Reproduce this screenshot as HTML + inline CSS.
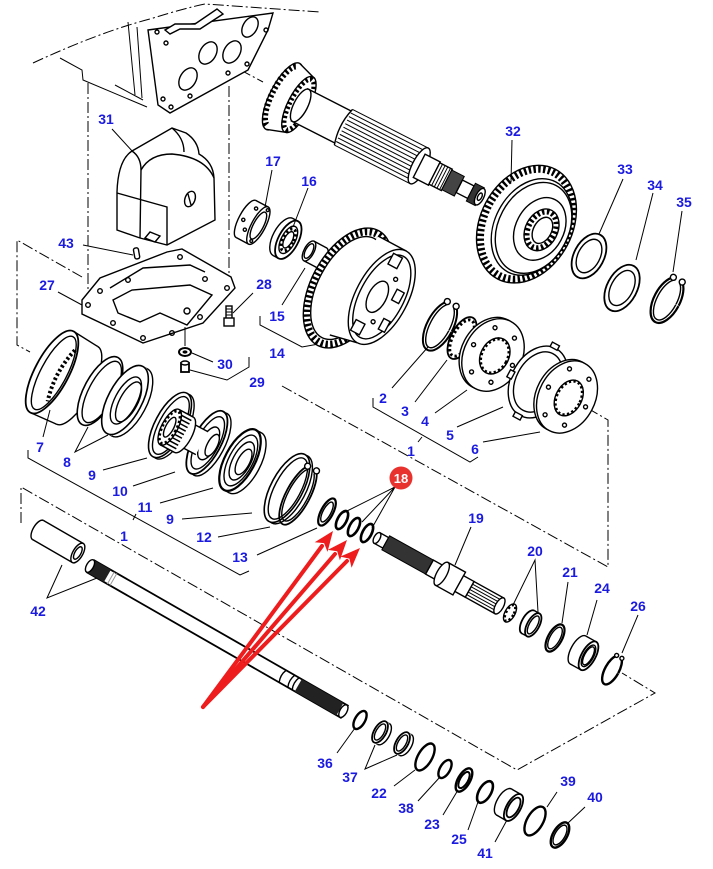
<!DOCTYPE html>
<html><head><meta charset="utf-8"><style>
html,body{margin:0;padding:0;background:#fff}
svg{display:block}
.s{fill:none;stroke:#000;stroke-width:1.4}
.w{fill:#fff;stroke:#000;stroke-width:1.4}
.t{fill:none;stroke:#000;stroke-width:6;stroke-dasharray:2.4 2.4}
.l{fill:none;stroke:#000;stroke-width:1}
.d{fill:none;stroke:#000;stroke-width:1;stroke-dasharray:11 3 2 3}
.n{font-family:"Liberation Sans",Arial,sans-serif;font-weight:bold;font-size:14px;fill:#1a1ae0;text-anchor:middle}
</style></head><body>
<svg width="713" height="869" viewBox="0 0 713 869" xmlns="http://www.w3.org/2000/svg">
<rect width="713" height="869" fill="#fff"/>
<path class="d" d="M33,63 Q100,32 150,19 Q185,8 205,4 L320,12"/>
<line class="d" x1="88" y1="83" x2="88" y2="290"/>
<line class="d" x1="229" y1="86" x2="229" y2="282"/>
<path class="d" d="M82,277 L17,240 L17,345 L30,352"/>
<line class="d" x1="207" y1="52" x2="263" y2="82"/>
<path class="d" d="M282,386 L608,567 L608,420 L570,398"/>
<path class="d" d="M21,523 L21,487 L517,770 L655,693 L622,673"/>
<path class="l" d="M260,316 L260,325 L302,347 L330,342"/>
<path class="l" d="M190,370 L227,380 L249,367 L249,357"/>
<path class="l" d="M28,450 L28,458 L240,575 L249,571"/>
<path class="l" d="M373,398 L373,407 L470,462 L478,457"/>
<path class="l" d="M60,58 L82,70 L83,80 L147,107"/>
<path class="l" d="M115,85 L143,100"/>
<path class="l" d="M137,27 L142,98"/>
<path class="l" d="M128,22 L135,95"/>
<path class="w" d="M148,30 L273,13 L268,30 L248,70 L170,113 L158,105 Z"/>
<path class="w" d="M165,30 L175,24 L195,24 L217,9 L223,14 L200,29 L180,29 L170,34 Z"/>
<ellipse class="w" cx="250" cy="27" rx="7" ry="11" transform="rotate(30 250 27)"/>
<ellipse class="w" cx="208" cy="53" rx="8" ry="12" transform="rotate(30 208 53)"/>
<ellipse class="w" cx="232" cy="52" rx="8" ry="12" transform="rotate(30 232 52)"/>
<ellipse class="w" cx="188" cy="79" rx="8" ry="12" transform="rotate(30 188 79)"/>
<g class="s"><circle cx="157" cy="32" r="2"/><circle cx="166" cy="43" r="2"/><circle cx="163" cy="99" r="2"/><circle cx="171" cy="107" r="2"/><circle cx="190" cy="96" r="2"/><circle cx="228" cy="73" r="2"/><circle cx="247" cy="64" r="2"/><circle cx="266" cy="30" r="2"/></g>
<g transform="translate(290,100) rotate(27)">
<ellipse class="w" cx="-8" cy="0" rx="13" ry="37"/>
<ellipse class="t" cx="-8" cy="0" rx="11" ry="33"/>
<path fill="#fff" d="M-8,-37 L10,-31 L10,31 L-8,37 Z"/>
<line class="s" x1="-8" y1="-37" x2="10" y2="-31"/><line class="s" x1="-8" y1="37" x2="10" y2="31"/>
<ellipse class="w" cx="10" cy="0" rx="11" ry="31"/>
<ellipse class="t" cx="10" cy="0" rx="9" ry="28" style="stroke-width:5"/>
<rect x="10" y="-18" width="50" height="36" fill="#fff"/>
<line class="s" x1="10" y1="-18" x2="60" y2="-18"/><line class="s" x1="10" y1="18" x2="60" y2="18"/>
<ellipse class="w" cx="12" cy="0" rx="7" ry="18"/>
<rect x="60" y="-20" width="85" height="40" fill="#fff"/>
<g class="l"><line x1="60" y1="-20" x2="145" y2="-20"/><line x1="60" y1="-16" x2="145" y2="-16"/><line x1="60" y1="-12" x2="145" y2="-12"/><line x1="60" y1="-8" x2="145" y2="-8"/><line x1="60" y1="-4" x2="145" y2="-4"/><line x1="60" y1="0" x2="145" y2="0"/><line x1="60" y1="4" x2="145" y2="4"/><line x1="60" y1="8" x2="145" y2="8"/><line x1="60" y1="12" x2="145" y2="12"/><line x1="60" y1="16" x2="145" y2="16"/><line x1="60" y1="20" x2="145" y2="20"/></g>
<path class="s" d="M60,-20 Q54,0 60,20"/>
<ellipse class="w" cx="145" cy="0" rx="7" ry="20"/>
<rect class="w" x="145" y="-13" width="17" height="26"/>
<rect class="w" x="162" y="-12" width="14" height="24"/>
<g class="l"><line x1="165" y1="-12" x2="165" y2="12"/><line x1="168" y1="-12" x2="168" y2="12"/><line x1="171" y1="-12" x2="171" y2="12"/><line x1="174" y1="-12" x2="174" y2="12"/></g>
<rect x="176" y="-11" width="14" height="22" fill="#444" stroke="#000"/>
<rect class="w" x="190" y="-7" width="13" height="14"/>
<rect x="203" y="-10" width="10" height="20" fill="#333" stroke="#000"/>
<ellipse class="w" cx="213" cy="0" rx="4" ry="9"/>
<ellipse class="s" cx="213" cy="0" rx="2" ry="4"/>
</g>
<g transform="translate(530,226) rotate(28)">
<ellipse class="w" cx="-4" cy="0" rx="46" ry="62"/>
<ellipse class="t" cx="-4" cy="0" rx="42" ry="58" style="stroke-width:7"/>
<ellipse class="w" cx="2" cy="0" rx="37" ry="51"/>
<ellipse class="s" cx="4" cy="0" rx="35" ry="48"/>
<ellipse class="s" cx="10" cy="-2" rx="24" ry="33"/>
<ellipse class="w" cx="12" cy="-2" rx="16" ry="22"/>
<ellipse class="t" cx="12" cy="-2" rx="13" ry="19" style="stroke-width:5"/>
<ellipse class="w" cx="13" cy="-2" rx="9" ry="14"/>
</g>
<g transform="translate(589,256) rotate(28)"><ellipse class="w" rx="15" ry="24" style="stroke-width:1.8"/><ellipse class="s" rx="11" ry="18"/></g>
<g transform="translate(622,288) rotate(28)"><ellipse class="w" rx="15" ry="25" style="stroke-width:1.8"/><ellipse class="s" rx="11" ry="19"/></g>
<g transform="translate(667,300) rotate(28)"><ellipse class="s" rx="13" ry="25" pathLength="100" stroke-dasharray="71 8 21" style="stroke-width:2.2"/><ellipse class="s" rx="10" ry="22" pathLength="100" stroke-dasharray="71 8 21"/><circle class="w" cx="-5" cy="-23" r="3"/><circle class="w" cx="5" cy="-23" r="3"/></g>
<path class="w" d="M117,230 L117,192 Q118,160 132,151 L172,128 L186,133 Q198,141 199,154 Q213,162 214,178 L215,220 L167,245 L140,238 Z"/>
<path class="s" d="M132,151 Q141,157 141,170 L140,238"/>
<path class="s" d="M141,170 Q150,154 172,154 Q205,157 214,178"/>
<path class="s" d="M172,128 Q184,138 184,152"/>
<path class="s" d="M117,193 L167,207 L167,245"/>
<ellipse class="w" cx="190" cy="199" rx="5" ry="8" transform="rotate(20 190 199)"/>
<line class="s" x1="188" y1="194" x2="191" y2="205"/>
<path class="w" d="M145,238 L150,232 L160,236 L155,242 Z"/>
<rect class="w" x="134" y="248" width="5" height="11" rx="2" transform="rotate(-10 136 253)"/>
<path class="w" d="M82,300 L100,278 L167,252 L182,249 L231,277 L235,288 L203,323 L143,343 L82,314 Z"/>
<path class="s" d="M113,300 L132,290 L190,285 L212,295 L187,325 L160,313 L140,322 L118,313 Z"/>
<path class="s" d="M110,288 L143,268 L190,265 L205,272"/>
<g class="s"><circle cx="88" cy="305" r="2.3"/><circle cx="113" cy="323" r="2.3"/><circle cx="143" cy="338" r="2.3"/><circle cx="172" cy="333" r="2.3"/><circle cx="200" cy="317" r="2.3"/><circle cx="227" cy="288" r="2.3"/><circle cx="205" cy="279" r="2.3"/><circle cx="180" cy="257" r="2.3"/><circle cx="128" cy="280" r="2.3"/><circle cx="100" cy="291" r="2.3"/><circle cx="187" cy="311" r="3"/></g>
<rect class="w" x="226" y="306" width="6" height="13"/>
<g class="l"><line x1="226" y1="309" x2="232" y2="309"/><line x1="226" y1="312" x2="232" y2="312"/><line x1="226" y1="315" x2="232" y2="315"/></g>
<rect class="w" x="224" y="318" width="10" height="8"/>
<line class="l" x1="185" y1="327" x2="185" y2="346"/>
<ellipse class="w" cx="185" cy="352" rx="6" ry="4" style="stroke-width:2"/>
<ellipse cx="185" cy="352" rx="2.5" ry="1.6" fill="#000"/>
<rect class="w" x="181" y="363" width="8" height="9" style="stroke-width:1.8"/>
<ellipse class="w" cx="185" cy="363" rx="4" ry="2"/>
<g transform="translate(246,219) rotate(28)">
<ellipse class="w" cx="0" rx="7" ry="21"/>
<rect x="0" y="-21" width="14" height="42" fill="#fff"/>
<line class="s" x1="0" y1="-21" x2="14" y2="-21"/><line class="s" x1="0" y1="21" x2="14" y2="21"/>
<ellipse class="w" cx="14" rx="7" ry="21"/>
<ellipse class="s" cx="14" rx="5" ry="15"/>
<g class="s"><circle cx="4" cy="-14" r="1.6"/><circle cx="4" cy="10" r="1.6"/><circle cx="-2" cy="2" r="1.6"/><circle cx="15" cy="-18" r="1.4"/><circle cx="15" cy="17" r="1.4"/></g>
</g>
<g transform="translate(283,237) rotate(28)">
<ellipse class="w" cx="0" rx="10" ry="21"/>
<rect x="0" y="-21" width="6" height="42" fill="#fff"/>
<line class="s" x1="0" y1="-21" x2="6" y2="-21"/><line class="s" x1="0" y1="21" x2="6" y2="21"/>
<ellipse class="w" cx="6" rx="10" ry="21" style="stroke-width:1.8"/>
<ellipse class="s" cx="6" rx="7" ry="15"/>
<ellipse class="t" cx="6" rx="5.5" ry="12" style="stroke-width:3"/>
<ellipse class="w" cx="6" rx="4" ry="9"/>
</g>
<g transform="translate(309,251) rotate(28)">
<ellipse class="w" cx="14" rx="5" ry="11"/>
<rect x="0" y="-11" width="14" height="22" fill="#fff"/>
<line class="s" x1="0" y1="-11" x2="14" y2="-11"/><line class="s" x1="0" y1="11" x2="14" y2="11"/>
<ellipse class="w" cx="0" rx="5" ry="11"/>
<ellipse class="s" cx="0" rx="3.5" ry="8"/>
</g>
<g transform="translate(348,288) rotate(28)">
<ellipse class="w" rx="37" ry="65"/>
<ellipse class="t" rx="34" ry="61" style="stroke-width:7"/>
<ellipse class="s" rx="30" ry="56"/>
<path fill="#fff" d="M2,-60 L34,-60 L34,44 L2,52 Z"/>
<line class="s" x1="2" y1="-60" x2="34" y2="-60"/><line class="s" x1="6" y1="50" x2="34" y2="44"/>
<ellipse class="w" cx="34" cy="-8" rx="26" ry="52"/>
<ellipse class="s" cx="34" cy="-8" rx="22" ry="46"/>
<ellipse class="w" cx="30" cy="-6" rx="9" ry="17"/>
<circle class="s" cx="38" cy="-30" r="2"/><circle class="s" cx="38" cy="18" r="2"/>
<rect class="w" x="24" y="-52" width="10" height="12"/>
<rect class="w" x="44" y="-22" width="8" height="12"/>
<rect class="w" x="22" y="24" width="10" height="12"/>
<rect class="w" x="46" y="10" width="7" height="12"/>
</g>
<g transform="translate(440,326) rotate(28)"><ellipse class="s" rx="13" ry="27" pathLength="100" stroke-dasharray="71 8 21" style="stroke-width:2"/><ellipse class="s" rx="10" ry="24" pathLength="100" stroke-dasharray="71 8 21"/><circle class="w" cx="-5" cy="-25" r="3"/><circle class="w" cx="5" cy="-25" r="3"/></g>
<g transform="translate(462,338) rotate(28)"><ellipse class="w" rx="11" ry="23" style="stroke-width:1.8"/><ellipse class="t" rx="9" ry="20" style="stroke-width:3"/></g>
<g transform="translate(493,355) rotate(28)">
<ellipse class="w" cx="-3" rx="29" ry="38"/>
<ellipse class="w" cx="0" rx="29" ry="38"/>
<ellipse class="w" cx="2" rx="14" ry="19"/>
<ellipse class="t" cx="2" rx="13" ry="18" style="stroke-width:3"/>
<g class="s"><circle cx="22" cy="0" r="2"/><circle cx="11" cy="25" r="2"/><circle cx="-11" cy="25" r="2"/><circle cx="-22" cy="0" r="2"/><circle cx="-11" cy="-25" r="2"/><circle cx="11" cy="-25" r="2"/></g>
</g>
<g transform="translate(538,382) rotate(28)">
<ellipse class="w" rx="27" ry="38"/>
<ellipse class="s" rx="22" ry="32"/>
<rect class="w" x="-6" y="-42" width="8" height="5"/><rect class="w" x="-6" y="37" width="8" height="5"/><rect class="w" x="24" y="-8" width="5" height="8"/><rect class="w" x="-30" y="2" width="5" height="8"/>
</g>
<g transform="translate(567,397) rotate(28)">
<ellipse class="w" cx="-3" rx="28" ry="38"/>
<ellipse class="w" cx="0" rx="28" ry="38"/>
<ellipse class="w" cx="2" rx="13" ry="19"/>
<ellipse class="t" cx="2" rx="12" ry="18" style="stroke-width:3"/>
<g class="s"><circle cx="21" cy="0" r="2"/><circle cx="11" cy="26" r="2"/><circle cx="-11" cy="26" r="2"/><circle cx="-21" cy="0" r="2"/><circle cx="-11" cy="-26" r="2"/><circle cx="11" cy="-26" r="2"/></g>
</g>
<g transform="translate(52,372) rotate(28)">
<ellipse class="w" cx="28" rx="16" ry="44"/>
<path fill="#fff" d="M0,-46 L28,-44 L28,44 L0,46 Z"/>
<line class="s" x1="0" y1="-46" x2="28" y2="-44"/><line class="s" x1="0" y1="46" x2="28" y2="44"/>
<ellipse class="w" cx="0" rx="17" ry="46" style="stroke-width:1.8"/>
<ellipse class="s" cx="2" rx="13" ry="41"/>
<path class="t" d="M10,-30 Q2,0 10,28" style="stroke-width:4"/>
</g>
<g transform="translate(100,391) rotate(28)"><ellipse class="w" rx="16" ry="38" style="stroke-width:1.6"/><ellipse class="w" cx="2" rx="13" ry="34"/></g>
<g transform="translate(125,400) rotate(28)">
<ellipse class="w" cx="5" rx="17" ry="38"/>
<path fill="#fff" d="M0,-38 L5,-38 L5,38 L0,38 Z"/>
<ellipse class="w" cx="0" rx="17" ry="38" style="stroke-width:1.6"/>
<ellipse class="w" cx="1" rx="11" ry="26"/>
<ellipse class="s" cx="4" rx="9" ry="22"/>
</g>
<g transform="translate(170,425) rotate(28)"><ellipse class="w" cx="3" rx="15" ry="36"/><ellipse class="w" rx="15" ry="36" style="stroke-width:1.6"/><ellipse class="w" cx="1" rx="12" ry="32"/></g>
<g transform="translate(175,430) rotate(28)">
<ellipse class="w" cx="38" cy="-4" rx="14" ry="35"/>
<ellipse class="w" cx="34" cy="-4" rx="14" ry="35" style="stroke-width:1.8"/>
<ellipse class="s" cx="35" cy="-4" rx="11" ry="29"/>
<ellipse class="w" cx="36" cy="-4" rx="8" ry="18"/>
<ellipse class="w" cx="40" cy="-4" rx="5" ry="12"/>
<path fill="#fff" d="M8,-14 L30,-14 L30,12 L8,12 Z"/>
<line class="s" x1="8" y1="-14" x2="30" y2="-14"/><line class="s" x1="8" y1="12" x2="30" y2="12"/>
<ellipse class="w" cx="10" rx="8" ry="20"/>
<path fill="#fff" d="M-6,-20 L10,-20 L10,20 L-6,20 Z"/>
<g stroke="#000" stroke-width="1.5"><line x1="-6" y1="-20" x2="10" y2="-20"/><line x1="-6" y1="-16" x2="10" y2="-16"/><line x1="-6" y1="-12" x2="10" y2="-12"/><line x1="-6" y1="-8" x2="10" y2="-8"/><line x1="-6" y1="-4" x2="10" y2="-4"/><line x1="-6" y1="0" x2="10" y2="0"/><line x1="-6" y1="4" x2="10" y2="4"/><line x1="-6" y1="8" x2="10" y2="8"/><line x1="-6" y1="12" x2="10" y2="12"/><line x1="-6" y1="16" x2="10" y2="16"/><line x1="-6" y1="20" x2="10" y2="20"/></g>
<ellipse class="w" cx="-6" rx="8" ry="20"/>
<ellipse class="t" cx="-6" rx="7" ry="18" style="stroke-width:3"/>
<ellipse class="w" cx="-6" rx="4" ry="11"/>
</g>
<g transform="translate(240,460) rotate(28)">
<ellipse class="w" cx="6" rx="15" ry="34"/>
<path fill="#fff" d="M0,-34 L6,-34 L6,34 L0,34 Z"/>
<line class="s" x1="0" y1="-34" x2="6" y2="-34"/><line class="s" x1="0" y1="34" x2="6" y2="34"/>
<ellipse class="w" cx="0" rx="15" ry="34" style="stroke-width:2.2"/>
<ellipse class="s" cx="1" rx="12" ry="28"/>
<ellipse class="w" cx="2" rx="9" ry="21"/>
<ellipse class="w" cx="4" rx="6" ry="14"/>
</g>
<g transform="translate(287,488) rotate(28)"><ellipse class="w" cx="3" rx="16" ry="38"/><ellipse class="w" rx="16" ry="38" style="stroke-width:1.6"/><ellipse class="w" cx="1" rx="13" ry="34"/></g>
<g transform="translate(298,495) rotate(28)"><ellipse class="s" rx="12" ry="33" pathLength="100" stroke-dasharray="71 8 21" style="stroke-width:1.8"/><ellipse class="s" rx="10" ry="29" pathLength="100" stroke-dasharray="71 8 21"/><circle class="w" cx="-5" cy="-30" r="3"/><circle class="w" cx="5" cy="-30" r="3"/></g>
<g transform="translate(327,512) rotate(28)"><ellipse class="w" rx="6" ry="15" style="stroke-width:2.2"/><ellipse class="s" rx="4" ry="11"/></g>
<g transform="translate(342,520) rotate(28)"><ellipse class="w" rx="4.5" ry="10" style="stroke-width:2.6"/></g>
<g transform="translate(354,527) rotate(28)"><ellipse class="w" rx="4.5" ry="10" style="stroke-width:2.6"/></g>
<g transform="translate(367,533) rotate(28)"><ellipse class="w" rx="4.5" ry="10" style="stroke-width:2.6"/></g>
<g transform="translate(377,538) rotate(29)">
<rect class="w" x="0" y="-6" width="10" height="12"/>
<rect x="10" y="-8" width="50" height="16" fill="#333" stroke="#000"/>
<rect class="w" x="60" y="-8" width="14" height="16"/>
<rect class="w" x="74" y="-13" width="20" height="26"/>
<ellipse class="w" cx="74" rx="5" ry="13"/>
<rect class="w" x="94" y="-9" width="12" height="18"/>
<rect class="w" x="106" y="-9" width="34" height="18"/>
<g class="l"><line x1="106" y1="-6" x2="140" y2="-6"/><line x1="106" y1="-3" x2="140" y2="-3"/><line x1="106" y1="0" x2="140" y2="0"/><line x1="106" y1="3" x2="140" y2="3"/><line x1="106" y1="6" x2="140" y2="6"/></g>
<ellipse class="w" cx="140" rx="4" ry="9"/>
<ellipse class="w" cx="0" rx="3" ry="6"/>
</g>
<g transform="translate(510,613) rotate(29)"><ellipse class="w" rx="5" ry="10"/><ellipse class="t" rx="4" ry="9" style="stroke-width:3"/></g>
<g transform="translate(528,622) rotate(29)">
<ellipse class="w" cx="0" rx="6" ry="13" style="stroke-width:1.8"/>
<rect x="0" y="-13" width="6" height="26" fill="#fff"/>
<line class="s" x1="0" y1="-13" x2="6" y2="-13"/><line class="s" x1="0" y1="13" x2="6" y2="13"/>
<ellipse class="w" cx="6" rx="6" ry="13" style="stroke-width:1.8"/>
<ellipse class="s" cx="6" rx="4" ry="10"/>
</g>
<g transform="translate(555,638) rotate(29)"><ellipse class="w" rx="7" ry="15" style="stroke-width:2.2"/><ellipse class="s" rx="5" ry="12"/></g>
<g transform="translate(578,650) rotate(29)">
<ellipse class="w" cx="0" rx="7" ry="16"/>
<rect x="0" y="-16" width="12" height="32" fill="#fff"/>
<line class="s" x1="0" y1="-16" x2="12" y2="-16"/><line class="s" x1="0" y1="16" x2="12" y2="16"/>
<ellipse class="w" cx="12" rx="7" ry="16" style="stroke-width:1.8"/>
<ellipse class="s" cx="12" rx="5" ry="12"/>
<ellipse class="s" cx="12" rx="4" ry="10"/>
</g>
<g transform="translate(612,670) rotate(29)"><ellipse class="s" rx="7" ry="16" pathLength="100" stroke-dasharray="71 8 21" style="stroke-width:2.4"/><circle class="w" cx="-3" cy="-15" r="2"/><circle class="w" cx="3" cy="-15" r="2"/></g>
<g transform="translate(38,530) rotate(30)">
<ellipse class="w" cx="0" rx="5" ry="11"/>
<rect x="0" y="-11" width="46" height="22" fill="#fff"/>
<line class="s" x1="0" y1="-11" x2="46" y2="-11"/><line class="s" x1="0" y1="11" x2="46" y2="11"/>
<ellipse class="w" cx="46" rx="5" ry="11"/>
<ellipse class="s" cx="46" rx="3" ry="7"/>
</g>
<g transform="translate(90,566) rotate(29.8)">
<rect x="0" y="-7" width="294" height="14" fill="#fff"/>
<line class="s" x1="0" y1="-7" x2="294" y2="-7" style="stroke-width:1.8"/><line class="s" x1="0" y1="7" x2="294" y2="7" style="stroke-width:1.8"/>
<rect x="0" y="-7" width="20" height="14" fill="#222"/>
<line x1="24" y1="-7" x2="24" y2="7" stroke="#999"/><line x1="27" y1="-7" x2="27" y2="7" stroke="#999"/>
<path class="s" d="M222,-7 Q219,0 222,7"/><path class="s" d="M232,-7 Q229,0 232,7"/><path class="s" d="M237,-7 Q234,0 237,7"/>
<rect x="240" y="-7" width="48" height="14" fill="#222"/>
<ellipse class="w" cx="292" rx="3.5" ry="7"/>
<ellipse class="w" cx="0" rx="3.5" ry="7"/>
</g>
<g transform="translate(360,720) rotate(30)"><ellipse class="w" rx="5" ry="10" style="stroke-width:2.4"/></g>
<g transform="translate(380,732) rotate(30)"><ellipse class="w" cx="4" rx="6" ry="12"/><rect x="0" y="-12" width="4" height="24" fill="#fff"/><ellipse class="w" cx="0" rx="6" ry="12" style="stroke-width:1.8"/><ellipse class="s" cx="0" rx="4" ry="9"/></g>
<g transform="translate(402,743) rotate(30)"><ellipse class="w" cx="4" rx="6" ry="12"/><rect x="0" y="-12" width="4" height="24" fill="#fff"/><ellipse class="w" cx="0" rx="6" ry="12" style="stroke-width:1.8"/><ellipse class="s" cx="0" rx="4" ry="9"/></g>
<g transform="translate(425,757) rotate(30)"><ellipse class="w" rx="7" ry="15" style="stroke-width:2.4"/></g>
<g transform="translate(445,769) rotate(30)"><ellipse class="w" rx="5" ry="10" style="stroke-width:2.4"/></g>
<g transform="translate(464,780) rotate(30)"><ellipse class="w" rx="6" ry="13" style="stroke-width:2.4"/><ellipse class="s" rx="4" ry="9" style="stroke-width:2"/></g>
<g transform="translate(485,792) rotate(30)"><ellipse class="w" rx="6" ry="12" style="stroke-width:2.6"/></g>
<g transform="translate(504,802) rotate(30)">
<ellipse class="w" cx="0" rx="7" ry="15"/>
<rect x="0" y="-15" width="11" height="30" fill="#fff"/>
<line class="s" x1="0" y1="-15" x2="11" y2="-15"/><line class="s" x1="0" y1="15" x2="11" y2="15"/>
<ellipse class="w" cx="11" rx="7" ry="15" style="stroke-width:1.8"/>
<ellipse class="s" cx="11" rx="5" ry="11" style="stroke-width:1.8"/>
</g>
<g transform="translate(535,821) rotate(30)"><ellipse class="w" rx="8" ry="16" style="stroke-width:2.4"/></g>
<g transform="translate(560,835) rotate(30)"><ellipse class="w" rx="7" ry="14" style="stroke-width:2.4"/><ellipse class="s" rx="5" ry="11"/></g>
<g class="l">
<line x1="112" y1="129" x2="133" y2="152"/>
<line x1="272" y1="170" x2="265" y2="207"/>
<line x1="308" y1="188" x2="293" y2="227"/>
<line x1="512" y1="140" x2="511" y2="182"/>
<line x1="623" y1="179" x2="599" y2="234"/>
<line x1="653" y1="193" x2="636" y2="260"/>
<line x1="682" y1="211" x2="673" y2="272"/>
<line x1="83" y1="245" x2="133" y2="255"/>
<line x1="58" y1="292" x2="82" y2="305"/>
<line x1="253" y1="293" x2="233" y2="313"/>
<line x1="282" y1="305" x2="305" y2="268"/>
<line x1="192" y1="353" x2="213" y2="362"/>
<line x1="43" y1="437" x2="50" y2="410"/>
<path d="M88,427 L75,452 L108,435"/>
<line x1="103" y1="470" x2="147" y2="458"/>
<line x1="133" y1="486" x2="175" y2="472"/>
<line x1="160" y1="503" x2="213" y2="488"/>
<line x1="182" y1="519" x2="252" y2="513"/>
<line x1="218" y1="537" x2="270" y2="527"/>
<line x1="257" y1="555" x2="317" y2="528"/>
<line x1="133" y1="520" x2="136" y2="514"/>
<line x1="392" y1="388" x2="428" y2="347"/>
<line x1="415" y1="402" x2="447" y2="360"/>
<line x1="435" y1="413" x2="467" y2="390"/>
<line x1="457" y1="427" x2="503" y2="407"/>
<line x1="483" y1="442" x2="540" y2="432"/>
<line x1="418" y1="442" x2="422" y2="437"/>
<path d="M343,513 L395,487 L362,522 M395,487 L372,528"/>
<line x1="471" y1="527" x2="455" y2="565"/>
<path d="M513,605 L535,560 L538,612"/>
<line x1="568" y1="582" x2="562" y2="623"/>
<line x1="597" y1="600" x2="587" y2="635"/>
<line x1="638" y1="615" x2="622" y2="653"/>
<path d="M62,565 L47,598 L97,578"/>
<line x1="337" y1="753" x2="355" y2="728"/>
<path d="M375,745 L365,769 L397,755"/>
<line x1="394" y1="786" x2="415" y2="770"/>
<line x1="418" y1="801" x2="440" y2="777"/>
<line x1="443" y1="815" x2="458" y2="790"/>
<line x1="468" y1="830" x2="478" y2="802"/>
<line x1="495" y1="842" x2="507" y2="820"/>
<line x1="557" y1="792" x2="547" y2="807"/>
<line x1="585" y1="807" x2="568" y2="823"/>
</g>
<g stroke="#ee1c1c" stroke-width="4" stroke-linecap="round" fill="none">
<line x1="203" y1="707" x2="322" y2="546"/>
<line x1="203" y1="707" x2="335" y2="554"/>
<line x1="203" y1="707" x2="347" y2="561"/>
</g>
<g fill="#ee1c1c">
<polygon points="333,531 327.5,551.9 324.1,543.1 314.7,542.3"/>
<polygon points="347,540 339.9,560.3 337.2,551.3 327.8,549.9"/>
<polygon points="360,548 351.6,567.8 349.4,558.6 340.2,556.6"/>
</g>
<circle cx="401" cy="478" r="11.5" fill="#e8322d"/>
<text x="401" y="483" style="font-family:'Liberation Sans',Arial,sans-serif;font-weight:bold;font-size:13px;fill:#fff;text-anchor:middle">18</text>
<g class="n">
<text x="106" y="124">31</text>
<text x="273" y="166">17</text>
<text x="309" y="186">16</text>
<text x="513" y="136">32</text>
<text x="625" y="174">33</text>
<text x="655" y="190">34</text>
<text x="684" y="207">35</text>
<text x="66" y="248">43</text>
<text x="47" y="290">27</text>
<text x="264" y="289">28</text>
<text x="277" y="321">15</text>
<text x="277" y="358">14</text>
<text x="225" y="369">30</text>
<text x="257" y="387">29</text>
<text x="40" y="452">7</text>
<text x="67" y="467">8</text>
<text x="92" y="480">9</text>
<text x="120" y="496">10</text>
<text x="145" y="512">11</text>
<text x="170" y="524">9</text>
<text x="204" y="542">12</text>
<text x="240" y="562">13</text>
<text x="124" y="541">1</text>
<text x="383" y="403">2</text>
<text x="405" y="416">3</text>
<text x="425" y="426">4</text>
<text x="450" y="440">5</text>
<text x="475" y="454">6</text>
<text x="411" y="456">1</text>
<text x="476" y="523">19</text>
<text x="535" y="556">20</text>
<text x="570" y="577">21</text>
<text x="602" y="593">24</text>
<text x="638" y="611">26</text>
<text x="38" y="616">42</text>
<text x="325" y="768">36</text>
<text x="350" y="782">37</text>
<text x="379" y="798">22</text>
<text x="406" y="813">38</text>
<text x="432" y="829">23</text>
<text x="459" y="844">25</text>
<text x="485" y="858">41</text>
<text x="568" y="786">39</text>
<text x="595" y="802">40</text>
</g>
</svg>
</body></html>
